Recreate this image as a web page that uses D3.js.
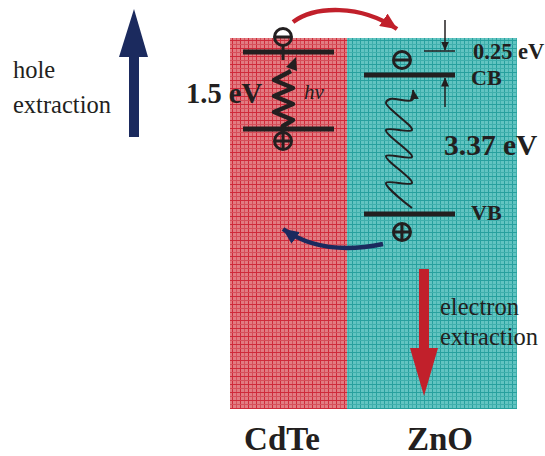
<!DOCTYPE html>
<html><head><meta charset="utf-8">
<script src="https://cdn.jsdelivr.net/npm/d3@7"></script>
<style>body{margin:0;background:#fff}svg{display:block}</style>
</head><body>
<script>
// ---- data ----
const materials = ["CdTe", "ZnO"];
const bandGaps = [1.5, 3.37];          // eV
const cbOffset = 0.25;                  // eV
const bandLabels = ["CB", "VB"];
const holeLabel = ["hole", "extraction"];
const electronLabel = ["electron", "extraction"];

// ---- layout ----
const W = 545, H = 456;
const svg = d3.select("body").append("svg").attr("width", W).attr("height", H);
const defs = svg.append("defs");
const ink = "#231f20", navy = "#1b2a5e", red = "#c1202b";
const serif = "'Liberation Serif','Times New Roman',serif";

function grid(id, base, dark, mid) {
  const p = defs.append("pattern").attr("id", id).attr("patternUnits", "userSpaceOnUse")
    .attr("width", 8).attr("height", 8);
  p.append("rect").attr("width", 8).attr("height", 8).attr("fill", base);
  p.append("rect").attr("x", 0).attr("width", 1).attr("height", 8).attr("fill", dark);
  p.append("rect").attr("x", 4).attr("width", 1).attr("height", 8).attr("fill", mid);
  p.append("rect").attr("y", 0).attr("height", 1).attr("width", 8).attr("fill", dark);
  p.append("rect").attr("y", 4).attr("height", 1).attr("width", 8).attr("fill", mid);
}
grid("gCdTe", "#e27c82", "#cf2a3a", "#d64f5a");
grid("gZnO", "#62c4c1", "#27a09e", "#3fafac");

const xs = d3.scaleOrdinal().domain(materials).range([[230, 347], [347, 517]]);
const yTop = 38, yBot = 409;

svg.selectAll("rect.mat").data(materials).join("rect").attr("class", "mat")
  .attr("x", d => xs(d)[0]).attr("y", yTop)
  .attr("width", d => xs(d)[1] - xs(d)[0]).attr("height", yBot - yTop)
  .attr("fill", (d, i) => i ? "url(#gZnO)" : "url(#gCdTe)");

svg.selectAll("text.mat").data(materials).join("text").attr("class", "mat")
  .attr("x", (d, i) => i ? 440 : 282).attr("y", 450)
  .attr("text-anchor", "middle").attr("font-family", serif).attr("font-weight", "bold")
  .attr("font-size", 33).attr("fill", ink).text(d => d);

// band levels (diagram positions, not to scale)
const levels = [
  {m: 0, cb: 52, vb: 129, x0: 243, x1: 334, cx: 283},
  {m: 1, cb: 75, vb: 214, x0: 364, x1: 455, cx: 402}
];
levels.forEach(L => {
  [L.cb, L.vb].forEach(y => svg.append("line").attr("x1", L.x0).attr("x2", L.x1)
    .attr("y1", y).attr("y2", y).attr("stroke", ink).attr("stroke-width", 5));
});

// charges
function charge(cx, cy, plus) {
  const g = svg.append("g").attr("stroke", ink).attr("stroke-width", 3).attr("fill", "none");
  g.append("circle").attr("cx", cx).attr("cy", cy).attr("r", 8.5);
  g.append("line").attr("x1", cx - 8).attr("x2", cx + 8).attr("y1", cy).attr("y2", cy);
  if (plus) g.append("line").attr("x1", cx).attr("x2", cx).attr("y1", cy - 8).attr("y2", cy + 8);
}
charge(283, 37, false);
charge(283, 141, true);
charge(402, 60, false);
charge(402, 232, true);

// arrow markers
function marker(id, color, w, l) {
  defs.append("marker").attr("id", id).attr("viewBox", `0 0 ${l} ${w}`)
    .attr("refX", l - 0.5).attr("refY", w / 2).attr("markerWidth", l).attr("markerHeight", w)
    .attr("markerUnits", "userSpaceOnUse").attr("orient", "auto")
    .append("path").attr("d", `M0,0L${l},${w / 2}L0,${w}Z`).attr("fill", color);
}
marker("mInk", ink, 9, 10);
marker("mInkS", ink, 8, 9);
marker("mRed", red, 15, 17);
marker("mNavy", navy, 14, 16);

// CdTe thick photon wave
const cdWave = [[283,134],[283,126],[293,120],[274,112],[293,104],[274,96],[293,88],[274,80],[291,71]];
svg.append("path").attr("d", d3.line().curve(d3.curveLinear)(cdWave))
  .attr("fill", "none").attr("stroke", ink).attr("stroke-width", 4.5).attr("stroke-linejoin", "round");
svg.append("path").attr("d", "M286,67L296,57L297,71Z").attr("fill", ink);
svg.append("line").attr("x1", 283).attr("x2", 283).attr("y1", 46).attr("y2", 60)
  .attr("stroke", ink).attr("stroke-width", 3);

// ZnO thin wave
const znWave = [[412,208],[386,183],[412,183],[386,156],[412,157],[386,130],[412,130],[386,103],
  [390,99],[412,100],[413,90]];
svg.append("path").attr("d", d3.line().curve(d3.curveCatmullRom.alpha(0.5))(znWave))
  .attr("fill", "none").attr("stroke", ink).attr("stroke-width", 2)
  .attr("marker-end", "url(#mInk)");

// 0.25 eV offset arrows
svg.append("line").attr("x1", 424).attr("x2", 455).attr("y1", 51).attr("y2", 51)
  .attr("stroke", ink).attr("stroke-width", 1.5);
svg.append("line").attr("x1", 445).attr("x2", 445).attr("y1", 20).attr("y2", 50)
  .attr("stroke", ink).attr("stroke-width", 1.5).attr("marker-end", "url(#mInkS)");
svg.append("line").attr("x1", 445).attr("x2", 445).attr("y1", 107).attr("y2", 78)
  .attr("stroke", ink).attr("stroke-width", 1.5).attr("marker-end", "url(#mInkS)");

// transfer arrows
svg.append("path").attr("d", "M293,22 C315,6 360,4 397,29")
  .attr("fill", "none").attr("stroke", red).attr("stroke-width", 4.5).attr("marker-end", "url(#mRed)");
svg.append("path").attr("d", "M383,244 C345,252 310,248 283,229")
  .attr("fill", "none").attr("stroke", navy).attr("stroke-width", 4.5).attr("marker-end", "url(#mNavy)");

// big extraction arrows
svg.append("rect").attr("x", 129).attr("y", 55).attr("width", 10).attr("height", 82).attr("fill", navy);
svg.append("path").attr("d", "M119,57L148,57L134,9Z").attr("fill", navy);
svg.append("rect").attr("x", 419).attr("y", 269).attr("width", 10).attr("height", 81).attr("fill", red);
svg.append("path").attr("d", "M410,348L438,348L424,396Z").attr("fill", red);

// texts
function txt(s, xx, yy, size, bold, italic, anchor) {
  svg.append("text").attr("x", xx).attr("y", yy).attr("font-family", serif)
    .attr("font-size", size).attr("font-weight", bold ? "bold" : "normal")
    .attr("font-style", italic ? "italic" : "normal").attr("text-anchor", anchor || "start")
    .attr("fill", ink).text(s);
}
txt(holeLabel[0], 13, 78, 24.5);
txt(holeLabel[1], 13, 113, 24.5);
txt(electronLabel[0], 440, 315, 24.5);
txt(electronLabel[1], 440, 345, 24.5);
txt(bandGaps[0] + " eV", 262, 103, 28.5, true, false, "end");
txt(bandGaps[1] + " eV", 444, 155, 29.5, true);
txt(cbOffset + " eV", 473, 59, 22.5, true);
txt(bandLabels[0], 471, 85, 22, true);
txt(bandLabels[1], 471, 220, 22, true);
txt("hv", 304, 99, 21, false, true);
</script>
</body></html>
